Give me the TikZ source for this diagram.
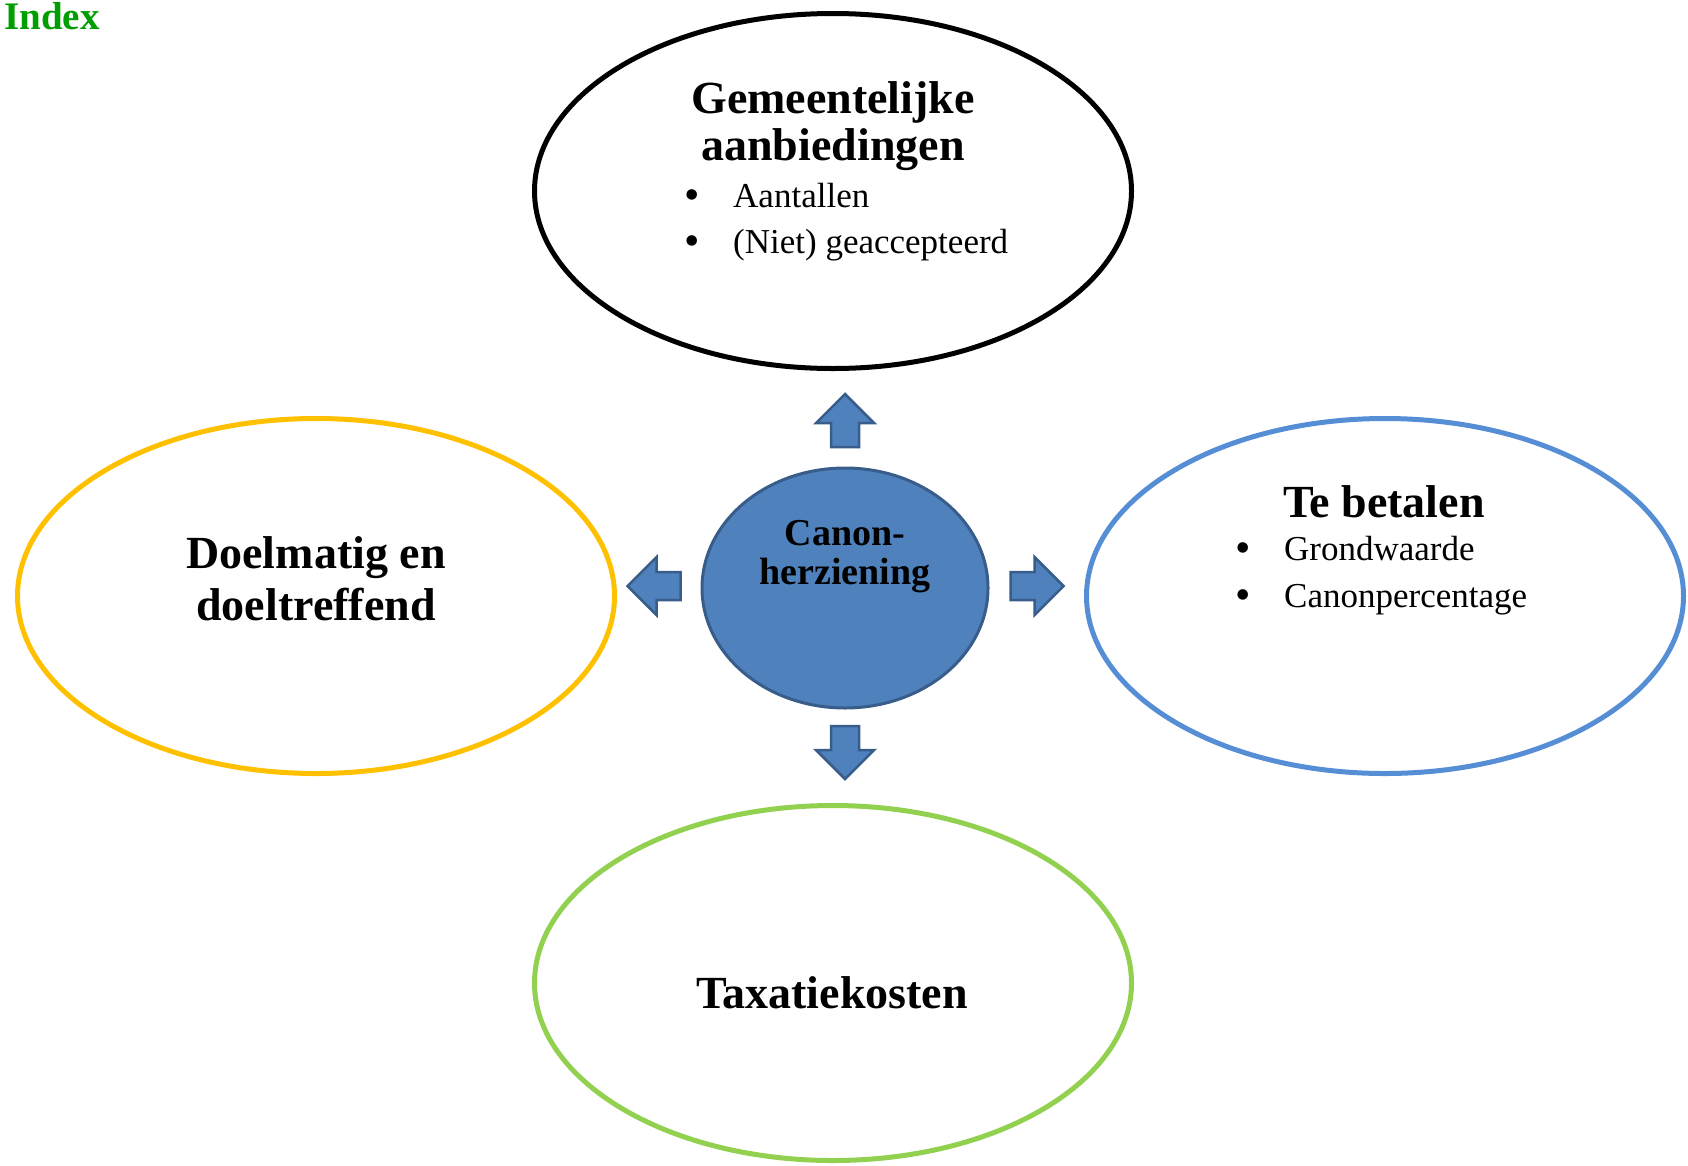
\documentclass[tikz,border=0pt]{standalone}
\usepackage{fontspec}
\setmainfont{Liberation Serif}
\usetikzlibrary{shapes.geometric}

\definecolor{indexgreen}{RGB}{0,158,0}
\definecolor{ringyellow}{RGB}{255,192,0}
\definecolor{ringblue}{RGB}{85,142,213}
\definecolor{ringgreen}{RGB}{146,208,80}
\definecolor{hubfill}{RGB}{79,129,189}
\definecolor{hubdraw}{RGB}{56,93,138}

\newcommand{\hubarrow}[2]{\draw[blockarrow,shift={(#1)},rotate=#2] (-14,-26.5) -- (-14,-2.5) -- (-29,-2.5) -- (0,26.5) -- (29,-2.5) -- (14,-2.5) -- (14,-26.5) -- cycle;}

\begin{document}
\begin{tikzpicture}[x=1pt,y=1pt]
        \tikzset{ring/.style = {shape=ellipse,draw,line width=5pt,minimum width=597pt,minimum height=355pt,inner sep=0pt}}
        \tikzset{title/.style = {anchor=base,inner sep=0pt,font=\fontsize{46}{54}\selectfont\bfseries}}
        \tikzset{item/.style = {anchor=base west,inner sep=0pt,font=\fontsize{35}{41}\selectfont}}
        \tikzset{dot/.style = {anchor=base,inner sep=0pt,font=\fontsize{44}{50}\selectfont}}
        \tikzset{blockarrow/.style = {fill=hubfill,draw=hubdraw,line width=2.5pt}}
        \useasboundingbox (0,0) rectangle (1688,-1165);
        % ellipses
        \node[ring] (aanbod) at (833,-191) {};
        \node[ring,draw=ringyellow] (doel) at (316,-596) {};
        \node[ring,draw=ringblue] (betalen) at (1385,-596) {};
        \node[ring,draw=ringgreen] (taxatie) at (833,-983) {};
        \node[shape=ellipse,fill=hubfill,draw=hubdraw,line width=3pt,minimum width=286pt,minimum height=240pt,inner sep=0pt] (hub) at (845,-588) {};
        % arrows
        \coordinate (upA) at (845,-420.5);
        \coordinate (downA) at (845,-752.5);
        \coordinate (leftA) at (654,-586);
        \coordinate (rightA) at (1037,-586);
        \hubarrow{upA}{0}
        \hubarrow{downA}{180}
        \hubarrow{leftA}{90}
        \hubarrow{rightA}{-90}
        % texts
        \node[anchor=base west,inner sep=0pt,text=indexgreen,font=\fontsize{39}{46}\selectfont\bfseries] (index) at (4,-29) {Index};
        \node[title] (t1) at (833,-113) {Gemeentelijke};
        \node[title] (t2) at (833,-160) {aanbiedingen};
        \node[dot] (b1) at (692,-209) {•};
        \node[item] (i1) at (733,-207) {Aantallen};
        \node[dot] (b2) at (692,-255) {•};
        \node[item] (i2) at (733,-253) {(Niet) geaccepteerd};
        \node[title] (t3) at (1384,-517) {Te betalen};
        \node[dot] (b3) at (1243,-562) {•};
        \node[item] (i3) at (1284,-560) {Grondwaarde};
        \node[dot] (b4) at (1243,-609) {•};
        \node[item] (i4) at (1284,-607) {Canonpercentage};
        \node[title] (t4) at (316,-568) {Doelmatig en};
        \node[title] (t5) at (316,-620) {doeltreffend};
        \node[title] (t6) at (832,-1008) {Taxatiekosten};
        \node[title,font=\fontsize{38}{44}\selectfont\bfseries] (h1) at (845,-545) {Canon-};
        \node[title,font=\fontsize{38}{44}\selectfont\bfseries] (h2) at (845,-584) {herziening};
\end{tikzpicture}
\end{document}
